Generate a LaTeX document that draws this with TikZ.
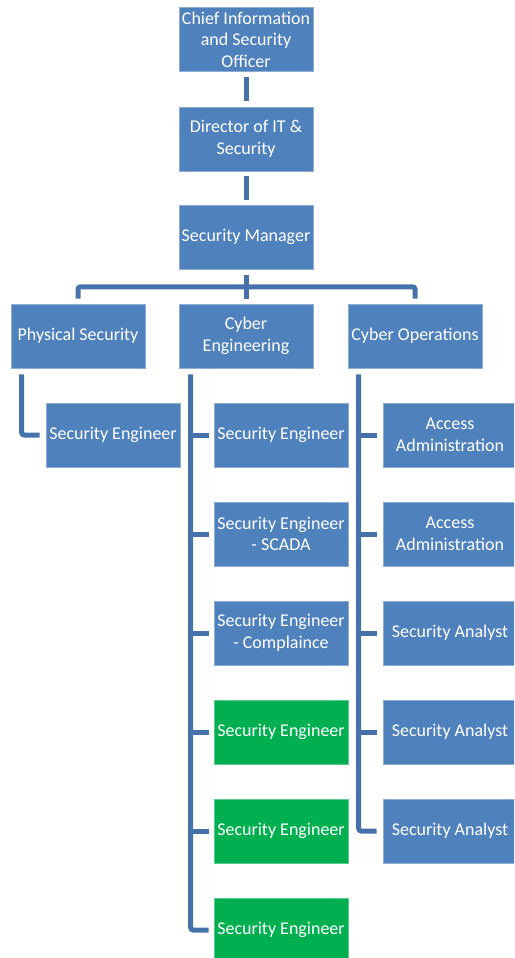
\documentclass[tikz,border=0pt]{standalone}
\usepackage{fontspec}
\setmainfont{Carlito}
\usetikzlibrary{calc}
\definecolor{boxblue}{HTML}{4F81BD}
\definecolor{boxgreen}{HTML}{00B050}
\definecolor{linkblue}{HTML}{4672AC}
\tikzset{
  box/.style={rectangle, fill=boxblue, draw=boxblue!65!white, line width=0.6pt,
    minimum width=134pt, minimum height=64pt, inner sep=0pt, align=center,
    text=white, font=\fontsize{18}{21.5}\selectfont},
  gbox/.style={box, fill=boxgreen, draw=boxgreen!65!white},
  link/.style={draw=linkblue, line width=5pt, rounded corners=2.5pt},
}
\begin{document}
\begin{tikzpicture}[x=1pt,y=1pt]
\useasboundingbox (0,0) rectangle (514,-958);
\clip (0,0) rectangle (514,-958);
% top chain
\node[box] (cio) at (246,-39.5) {Chief Information\\and Security\\Officer};
\node[box] (dir) at (246,-139) {Director of IT \&\\Security};
\node[box] (mgr) at (246,-237) {Security Manager};
% departments
\node[box] (phys) at (78,-336) {Physical Security};
\node[box] (ceng) at (246,-336) {Cyber\\Engineering};
\node[box] (cops) at (415,-336) {Cyber Operations};
% physical security
\node[box] (p1) at (113,-435) {Security Engineer};
% cyber engineering
\node[box] (e1) at (281,-435) {Security Engineer};
\node[box] (e2) at (281,-534) {Security Engineer\\- SCADA};
\node[box] (e3) at (281,-633) {Security Engineer\\- Complaince};
\node[gbox] (e4) at (281,-732) {Security Engineer};
\node[gbox] (e5) at (281,-831) {Security Engineer};
\node[gbox] (e6) at (281,-930) {Security Engineer};
% cyber operations
\node[box] (o1) at (450,-435) {Access\\Administration};
\node[box] (o2) at (450,-534) {Access\\Administration};
\node[box] (o3) at (450,-633) {Security Analyst};
\node[box] (o4) at (450,-732) {Security Analyst};
\node[box] (o5) at (450,-831) {Security Analyst};
% connectors
\draw[link] ([yshift=-5pt]cio.south) -- ([yshift=6pt]dir.north);
\draw[link] ([yshift=-5pt]dir.south) -- ([yshift=5pt]mgr.north);
\coordinate (bar) at ($(mgr.south)+(0,-17.5)$);
\draw[link] ([yshift=5pt]phys.north) |- (bar) -| ([yshift=5pt]cops.north);
\draw[link] ([yshift=-6pt]mgr.south) -- ([yshift=5pt]ceng.north);
% physical branch
\coordinate (pv) at ($(phys.south west)+(11,-6)$);
\draw[link] (pv) |- ([xshift=-6pt]p1.west);
% cyber engineering branch
\coordinate (ev) at ($(ceng.south west)+(12,-6)$);
\draw[link] (ev) |- ([xshift=-5pt]e6.west);
\foreach \n in {e1,e2,e3,e4,e5}
  \draw[link, rounded corners=0pt] (ev |- \n.west) -- ([xshift=-5pt]\n.west);
% cyber operations branch
\coordinate (ov) at ($(cops.south west)+(11,-6)$);
\draw[link] (ov) |- ([xshift=-6pt]o5.west);
\foreach \n in {o1,o2,o3,o4}
  \draw[link, rounded corners=0pt] (ov |- \n.west) -- ([xshift=-6pt]\n.west);
\end{tikzpicture}
\end{document}
